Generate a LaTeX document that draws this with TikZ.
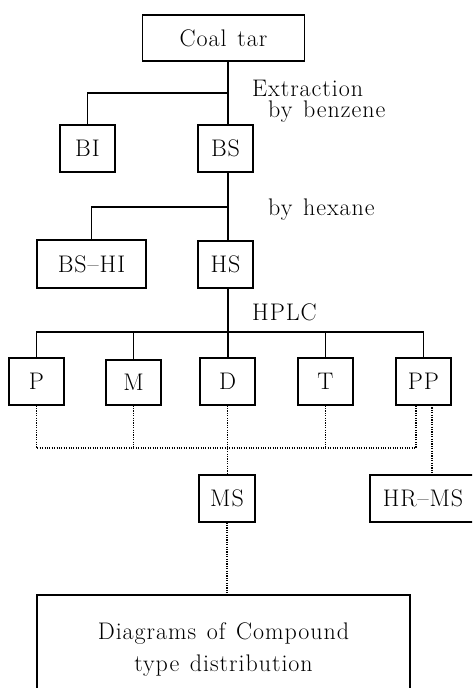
\documentclass[tikz,border=0pt]{standalone}
\usepackage{fontspec}
\setmainfont{Latin Modern Roman}[LetterSpace=4,WordSpace=1.3]
\begin{document}
\begin{tikzpicture}[x=1pt,y=-1pt,
  txt/.style={font=\fontsize{24}{32}\selectfont},
  lab/.style={txt,inner sep=0pt,anchor=west},
  box/.style={draw,line width=1.2pt,inner sep=0pt,txt},
  ln/.style={line width=1.1pt},
  dot/.style={line width=1.1pt,dash pattern=on 1.1pt off 1.3pt}]
\clip (0,0) rectangle (472,688);
\node[box,minimum width=162pt,minimum height=46pt] (ct) at (223.5,38) {Coal tar};
\node[box,minimum width=55pt,minimum height=47pt] (BI) at (87.5,148.5) {BI};
\node[box,minimum width=55pt,minimum height=47pt] (BS) at (225.5,148.5) {BS};
\node[box,minimum width=109pt,minimum height=48pt] (BSHI) at (91.5,264) {BS--HI};
\node[box,minimum width=55pt,minimum height=47pt] (HS) at (225.5,264.5) {HS};
\node[box,minimum width=55pt,minimum height=47pt] (P) at (36.5,381.5) {P};
\node[box,minimum width=55pt,minimum height=45pt] (M) at (133.5,382.5) {M};
\node[box,minimum width=55pt,minimum height=47pt] (D) at (227.5,381.5) {D};
\node[box,minimum width=55pt,minimum height=47pt] (T) at (325.5,381.5) {T};
\node[box,minimum width=55pt,minimum height=47pt] (PP) at (423.5,381.5) {PP};
\node[box,minimum width=56pt,minimum height=47pt] (MS) at (227,498.5) {MS};
\node[box,minimum width=106pt,minimum height=47pt] (HRMS) at (423,498.5) {HR--MS};
\node[box,minimum width=373pt,minimum height=110pt,align=center] (Diag) at (223.5,650) {Diagrams of Compound\\type distribution};
\node[lab] (l1) at (252,88) {Extraction};
\node[lab] (l2) at (268,112) {by benzene};
\node[lab] (l3) at (268,210) {by hexane};
\node[lab] (l4) at (252,312) {HPLC};
\coordinate (j1) at (228,93);
\coordinate (j2) at (228,207);
\coordinate (j3) at (228,332);
\coordinate (k) at (0,448);
\coordinate (ppl) at (416,405);
\coordinate (ppr) at (432,405);
\draw[ln] (ct.south -| j1) -- (BS.north -| j1);
\draw[ln] (j1) -| (BI.north);
\draw[ln] (BS.south -| j2) -- (HS.north -| j2);
\draw[ln] (j2) -| (BSHI.north);
\draw[ln] (HS.south -| j3) -- (D.north -| j3);
\draw[ln] (P.north) |- (j3) -| (PP.north);
\draw[ln] (M.north) -- (M.north |- j3);
\draw[ln] (T.north) -- (T.north |- j3);
\draw[dot] (P.south) |- (ppl |- k) -- (ppl);
\draw[dot] (M.south) -- (M.south |- k);
\draw[dot] (T.south) -- (T.south |- k);
\draw[dot] (D.south) -- (D.south |- MS.north);
\draw[dot] (ppr) -- (ppr |- HRMS.north);
\draw[dot] (MS.south) -- (MS.south |- Diag.north);
\end{tikzpicture}
\end{document}
